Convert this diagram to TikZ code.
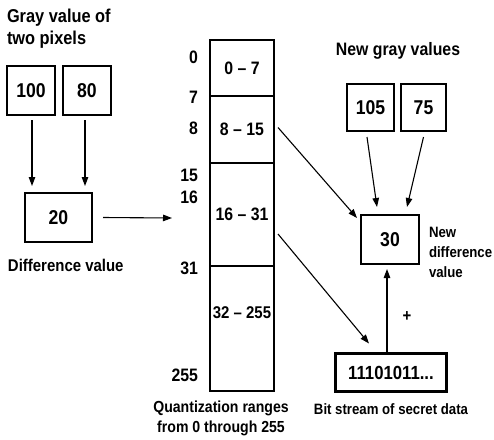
\documentclass[tikz,border=0pt]{standalone}
\usepackage{fontspec}
\setmainfont{Liberation Sans}[FakeStretch=0.88]
\usepackage{tikz}
\usetikzlibrary{arrows.meta,calc}
\newcommand{\fsz}[2]{\fontsize{#1}{#2}\selectfont\bfseries}

\begin{document}
\begin{tikzpicture}[x=1pt,y=-1pt,
    every node/.style={inner sep=0pt,outer sep=0pt},
    valbox/.style={draw,line width=1.2pt,font=\fsz{20}{24}},
    rangebox/.style={draw,line width=1.2pt,minimum width=64pt,font=\fsz{18}{20}},
    bound/.style={anchor=east,font=\fsz{18}{22}},
    lbl/.style={font=\fsz{16}{20},align=center},
    arr/.style={line width=1.1pt,-{Triangle[length=9pt,width=6.5pt]}}]

    \useasboundingbox (0,0) rectangle (494,439);

    % Gray values of the two pixels
    \node[anchor=west,align=left,font=\fsz{18.6}{22}] (title1) at (7,29) {Gray value of\\two pixels};
    \node[valbox,minimum width=48pt,minimum height=49pt] (p1) at (31,90.5) {100};
    \node[valbox,minimum width=48pt,minimum height=49pt] (p2) at (87,90.5) {80};

    \node[valbox,minimum width=67pt,minimum height=49pt] (d) at (58.5,217.5) {20};
    \node[lbl,anchor=west,font=\fsz{17}{20}] (dlbl) at (8,265) {Difference value};

    \draw[arr] ([shift={(1pt,-5pt)}]p1.south) -- ([shift={(1pt,7pt)}]p1.south |- d.north);
    \draw[arr] ([shift={(-2pt,-5pt)}]p2.south) -- ([shift={(-2pt,7pt)}]p2.south |- d.north);

    % Quantization ranges
    \node[rangebox,minimum height=56pt] (r1) at (242,68) {0 -- 7};
    \node[rangebox,minimum height=67pt] (r2) at (242,129.5) {8 -- 15};
    \node[rangebox,minimum height=103pt] (r3) at (242,214.5) {16 -- 31};
    \node[rangebox,minimum height=125pt] (r4) at (242,328.5) {};
    \node[font=\fsz{17}{20}] (r4txt) at (242,313) {32 -- 255};

    \node[bound] (b0) at (198,57) {0};
    \node[bound] (b7) at (198,97) {7};
    \node[bound] (b8) at (198,128) {8};
    \node[bound] (b15) at (198,175) {15};
    \node[bound] (b16) at (198,197) {16};
    \node[bound] (b31) at (198,268) {31};
    \node[bound] (b255) at (198,375) {255};

    \node[lbl] (qlbl) at (221,418) {Quantization ranges\\from 0 through 255};

    \coordinate (din) at (172,218);
    \draw[arr] ([xshift=11pt]d.east) -- (din);

    % New gray values
    \node[font=\fsz{18}{22}] (title2) at (398,51) {New gray values};
    \node[valbox,minimum width=47pt,minimum height=47pt] (n1) at (370.5,107.5) {105};
    \node[valbox,minimum width=45pt,minimum height=47pt] (n2) at (423.5,107.5) {75};

    \node[valbox,minimum width=58pt,minimum height=49pt] (nd) at (390,239.5) {30};
    \node[anchor=west,align=left,font=\fsz{15}{20}] (ndlbl) at (429,252) {New\\difference\\value};

    \draw[arr] ([shift={(-3.5pt,-6pt)}]n1.south) -- ([shift={(-13pt,8pt)}]nd.north);
    \draw[arr] ([shift={(0pt,-6pt)}]n2.south) -- ([shift={(17pt,8pt)}]nd.north);

    % Secret data
    \node[draw,line width=2.4pt,minimum width=111pt,minimum height=38pt,font=\fsz{19}{22}] (bs) at (391,372.5) {11101011...};
    \node[lbl,font=\fsz{15}{20}] (bslbl) at (391,409) {Bit stream of secret data};

    \draw[arr] ([shift={(4pt,2pt)}]r2.east) -- ([shift={(-4pt,-3pt)}]nd.north west);
    \draw[arr] ([shift={(4pt,-19.5pt)}]r3.east) -- ([shift={(-22pt,10pt)}]bs.north);
    \draw[arr] ([xshift=-4pt]bs.north) -- ([shift={(-3pt,-5pt)}]nd.south);
    \node[font=\fsz{17}{20}] (plus) at (407,317) {+};

\end{tikzpicture}
\end{document}
